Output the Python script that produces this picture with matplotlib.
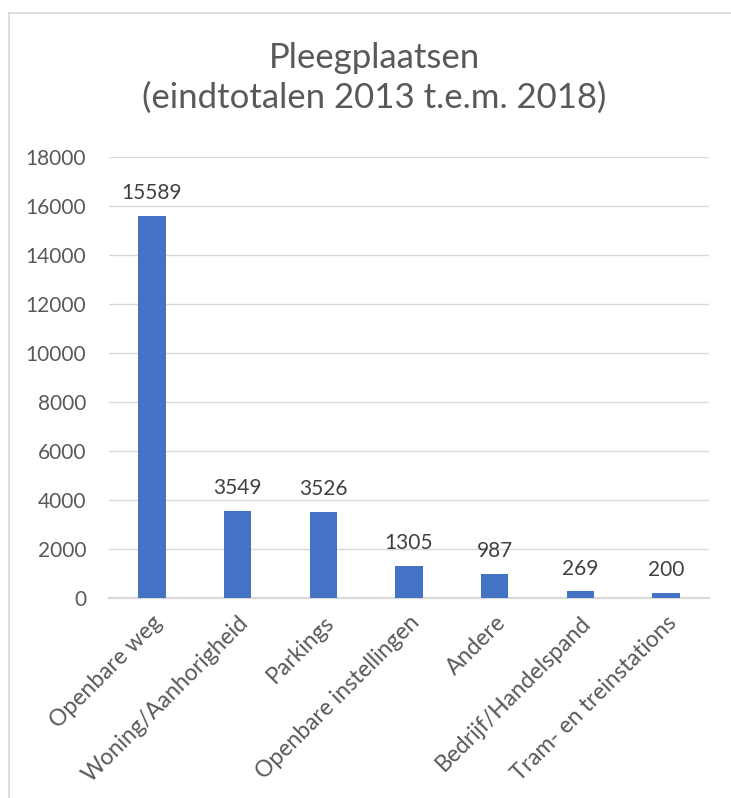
import matplotlib
matplotlib.use("Agg")
import matplotlib.pyplot as plt
from matplotlib.lines import Line2D

plt.rcParams['font.family'] = ['Lato', 'DejaVu Sans']

categories = [
    "Openbare weg",
    "Woning/Aanhorigheid",
    "Parkings",
    "Openbare instellingen",
    "Andere",
    "Bedrijf/Handelspand",
    "Tram- en treinstations",
]
values = [15589, 3549, 3526, 1305, 987, 269, 200]
y_ticks = [0, 2000, 4000, 6000, 8000, 10000, 12000, 14000, 16000, 18000]
title_line1 = "Pleegplaatsen"
title_line2 = "(eindtotalen 2013 t.e.m. 2018)"

bar_color = "#4472C4"
grid_color = "#D9D9D9"
tick_color = "#595959"
label_color = "#404040"

W, H = 731, 798
fig = plt.figure(figsize=(W / 100, H / 100), dpi=100)
ax = fig.add_axes([109 / W, 1 - 598 / H, 600 / W, 441 / H])

x = range(len(categories))
bars = ax.bar(x, values, width=0.32, color=bar_color, zorder=3)

ax.set_xlim(-0.5, len(categories) - 0.5)
ax.set_ylim(0, 18000)
ax.set_yticks(y_ticks)
ax.set_yticklabels([str(t) for t in y_ticks], fontsize=15, color=tick_color)
ax.yaxis.grid(True, color=grid_color, linewidth=1.0, zorder=0)
ax.set_axisbelow(True)

ax.set_xticks(list(x))
ax.set_xticklabels(categories, rotation=45, ha="right", rotation_mode="anchor",
                   fontsize=16.5, color=tick_color)
ax.tick_params(axis="both", length=0)
ax.tick_params(axis="x", pad=10)
ax.tick_params(axis="y", pad=16.5)

for side in ("top", "right", "left"):
    ax.spines[side].set_visible(False)
ax.spines["bottom"].set_color(grid_color)
ax.spines["bottom"].set_linewidth(1.6)

for b, v in zip(bars, values):
    ax.annotate(str(v), (b.get_x() + b.get_width() / 2, v),
                xytext=(0, 12), textcoords="offset points",
                ha="center", va="baseline", fontsize=15, color=label_color)

fig.text(374 / W, 1 - 68 / H, title_line1, ha="center", va="baseline",
         fontsize=25, color=tick_color)
fig.text(374 / W, 1 - 108 / H, title_line2, ha="center", va="baseline",
         fontsize=25, color=tick_color)

# chart frame (left and top edges)
fx, fy = 9 / W, 1 - 13 / H
fig.add_artist(Line2D([fx, 1.0], [fy, fy], transform=fig.transFigure,
                      color=grid_color, linewidth=1.3))
fig.add_artist(Line2D([fx, fx], [0, fy], transform=fig.transFigure,
                      color=grid_color, linewidth=1.3))

fig.savefig("out.png", dpi=100, facecolor="white")
